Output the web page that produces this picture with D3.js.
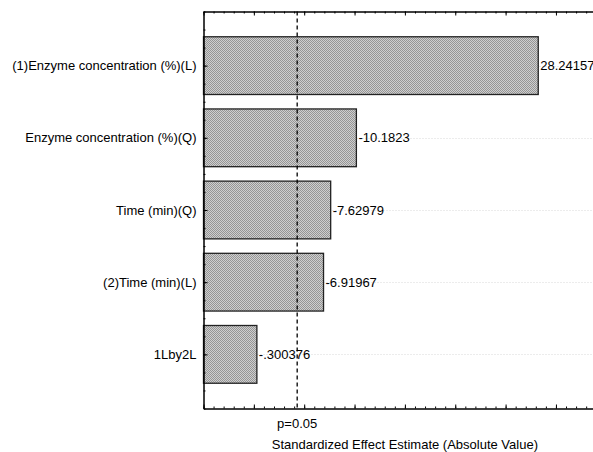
<!DOCTYPE html>
<html>
<head>
<meta charset="utf-8">
<script src="https://cdn.jsdelivr.net/npm/d3@7"></script>
<style>
	body { margin: 0; background: #fff; }
	text { font-family: "Liberation Sans", Arial, sans-serif; font-size: 13px; fill: #000; }
</style>
</head>
<body>
<svg id="chart"></svg>
<script>
// Pareto chart of standardized effects
const factors = [
	"(1)Enzyme concentration (%)(L)",
	"Enzyme concentration (%)(Q)",
	"Time (min)(Q)",
	"(2)Time (min)(L)",
	"1Lby2L"
];
const effects = [28.24157, -10.1823, -7.62979, -6.91967, -0.300376];
const pCritical = 4.303;
const pLabel = "p=0.05";
const xTitle = "Standardized Effect Estimate (Absolute Value)";

const W = 593, H = 452;
const plotLeft = 203.5, plotRight = 606.3, plotTop = 11.5, plotBottom = 408.5;

function fmt(v) {
	return String(v).replace(/^(-?)0\./, "$1.");
}

function drawChart() {
	const svg = d3.select("#chart").attr("width", W).attr("height", H);

	const x = d3.scaleLinear().domain([-5, 35]).range([plotLeft, plotRight]);
	const y = d3.scaleLinear().domain([0.25, 5.75]).range([plotTop, plotBottom]);
	const barH = y(1.4) - y(0.6);

	// hatch fill of the bars
	const pat = svg.append("defs").append("pattern")
		.attr("id", "hatch")
		.attr("patternUnits", "userSpaceOnUse")
		.attr("width", 2)
		.attr("height", 2);
	pat.append("rect").attr("width", 2).attr("height", 2).attr("fill", "#cfcfcf");
	[0, 1].forEach(i => {
		pat.append("rect").attr("x", i).attr("y", i).attr("width", 1).attr("height", 1).attr("fill", "#959595");
	});

	// faint grid at each category
	svg.append("g").selectAll("line")
		.data(factors)
		.join("line")
		.attr("x1", plotLeft)
		.attr("x2", W)
		.attr("y1", (d, i) => Math.round(y(i + 1)) + 0.5)
		.attr("y2", (d, i) => Math.round(y(i + 1)) + 0.5)
		.attr("stroke", "#d8d8d8")
		.attr("stroke-dasharray", "1,2");

	// bars
	svg.append("g").selectAll("rect")
		.data(effects)
		.join("rect")
		.attr("x", plotLeft)
		.attr("y", (d, i) => y(i + 1) - barH / 2)
		.attr("width", d => x(Math.abs(d)) - plotLeft)
		.attr("height", barH)
		.attr("fill", "url(#hatch)")
		.attr("stroke", "#222")
		.attr("stroke-width", 1.3);

	// value labels
	svg.append("g").selectAll("text")
		.data(effects)
		.join("text")
		.attr("x", d => x(Math.abs(d)) + 2)
		.attr("y", (d, i) => y(i + 1))
		.attr("dy", "0.36em")
		.text(d => fmt(d));

	// category labels
	svg.append("g").selectAll("text")
		.data(factors)
		.join("text")
		.attr("x", plotLeft - 7)
		.attr("y", (d, i) => y(i + 1))
		.attr("dy", "0.36em")
		.attr("text-anchor", "end")
		.text(d => d);

	// axes with inward ticks
	const xMinor = d3.range(-5, 36, 1);
	const xMajor = d3.range(-5, 36, 5);
	const yMinor = d3.range(0.25, 5.76, 0.25);
	const yMajor = d3.range(1, 6, 1);

	const addAxis = (axis, transform) => svg.append("g")
		.attr("transform", transform)
		.call(axis.tickSizeOuter(0).tickFormat(""))
		.call(g => g.selectAll("path, line").attr("stroke", "#000"));

	addAxis(d3.axisBottom(x).tickValues(xMinor).tickSize(-2), `translate(0,${plotBottom})`);
	addAxis(d3.axisBottom(x).tickValues(xMajor).tickSize(-4), `translate(0,${plotBottom})`);
	addAxis(d3.axisTop(x).tickValues(xMinor).tickSize(-2), `translate(0,${plotTop})`);
	addAxis(d3.axisTop(x).tickValues(xMajor).tickSize(-4), `translate(0,${plotTop})`);
	addAxis(d3.axisLeft(y).tickValues(yMinor).tickSize(-2), `translate(${plotLeft},0)`);
	addAxis(d3.axisLeft(y).tickValues(yMajor).tickSize(-4), `translate(${plotLeft},0)`);

	// p = 0.05 line
	svg.append("line")
		.attr("x1", x(pCritical))
		.attr("x2", x(pCritical))
		.attr("y1", plotTop)
		.attr("y2", plotBottom)
		.attr("stroke", "#000")
		.attr("stroke-width", 1.3)
		.attr("stroke-dasharray", "4,3");

	svg.append("text")
		.attr("x", x(pCritical))
		.attr("y", 428)
		.attr("text-anchor", "middle")
		.text(pLabel);

	svg.append("text")
		.attr("x", (plotLeft + plotRight) / 2)
		.attr("y", 449)
		.attr("text-anchor", "middle")
		.text(xTitle);
}

drawChart();
</script>
</body>
</html>
